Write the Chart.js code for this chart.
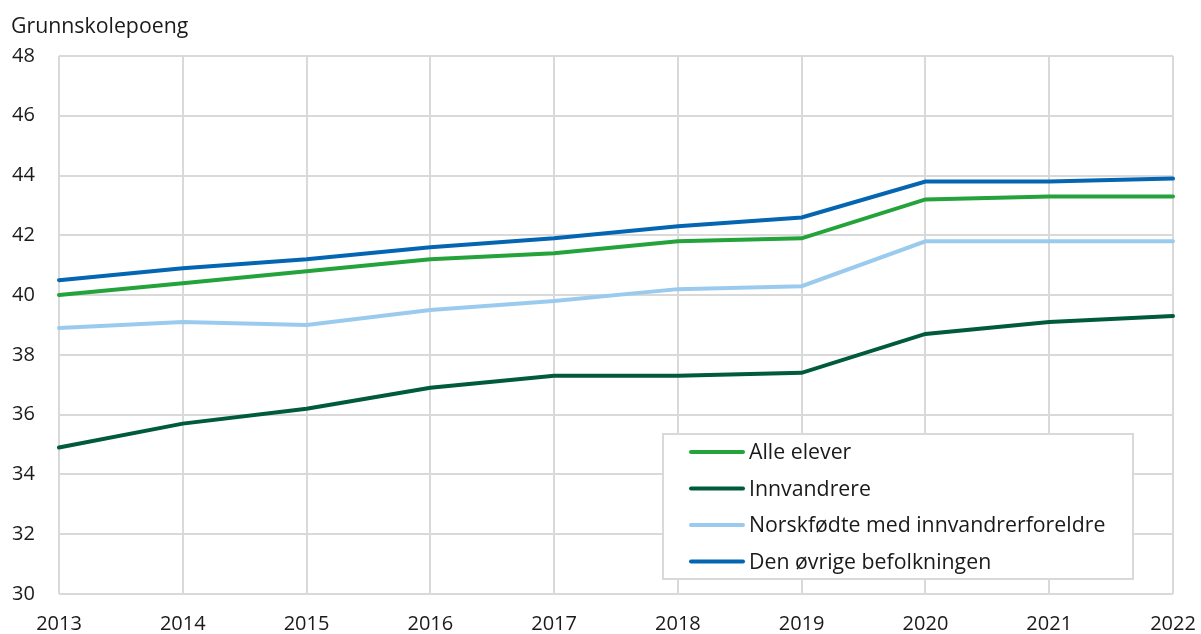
<!DOCTYPE html>
<html>
<head>
<meta charset="utf-8">
<script src="https://cdn.jsdelivr.net/npm/chart.js@4"></script>
<style>
  body { margin: 0; background: #fff; }
  #wrap { width: 1201px; height: 634px; position: relative; }
</style>
</head>
<body>
<div id="wrap"><canvas id="chart"></canvas></div>
<script>
const years = ["2013","2014","2015","2016","2017","2018","2019","2020","2021","2022"];
const alleElever = [40.0, 40.4, 40.8, 41.2, 41.4, 41.8, 41.9, 43.2, 43.3, 43.3];
const innvandrere = [34.9, 35.7, 36.2, 36.9, 37.3, 37.3, 37.4, 38.7, 39.1, 39.3];
const norskfodte = [38.9, 39.1, 39.0, 39.5, 39.8, 40.2, 40.3, 41.8, 41.8, 41.8];
const ovrige = [40.5, 40.9, 41.2, 41.6, 41.9, 42.3, 42.6, 43.8, 43.8, 43.9];
const yTitle = "Grunnskolepoeng";

const font = "'Open Sans', 'Noto Sans', sans-serif";

// legend drawn inside the plot area, bottom right
const boxLegend = {
  id: "boxLegend",
  afterDraw(chart) {
    const ctx = chart.ctx;
    const x = 663, y = 434, w = 470, h = 145;
    ctx.save();
    ctx.fillStyle = "#fff";
    ctx.fillRect(x, y, w, h);
    ctx.strokeStyle = "#d9d9d9";
    ctx.lineWidth = 2;
    ctx.strokeRect(x, y, w, h);
    ctx.font = "21.3px " + font;
    ctx.textBaseline = "middle";
    chart.data.datasets.forEach((ds, i) => {
      const ly = y + 18 + i * 36.5;
      ctx.strokeStyle = ds.borderColor;
      ctx.lineWidth = 4;
      ctx.lineCap = "round";
      ctx.beginPath();
      ctx.moveTo(x + 28, ly);
      ctx.lineTo(x + 80, ly);
      ctx.stroke();
      ctx.fillStyle = "#1a1a1a";
      ctx.fillText(ds.label, x + 86, ly + 1);
    });
    // axis title top-left
    ctx.textBaseline = "alphabetic";
    ctx.fillText(yTitle, 11, 33);
    ctx.restore();
  }
};

new Chart(document.getElementById("chart"), {
  type: "line",
  data: {
    labels: years,
    datasets: [
      { label: "Alle elever", data: alleElever, borderColor: "#24a33b" },
      { label: "Innvandrere", data: innvandrere, borderColor: "#005a3c" },
      { label: "Norskfødte med innvandrerforeldre", data: norskfodte, borderColor: "#9acbee" },
      { label: "Den øvrige befolkningen", data: ovrige, borderColor: "#0466b2" }
    ]
  },
  options: {
    responsive: true,
    maintainAspectRatio: false,
    animation: false,
    layout: { padding: { top: 56, right: 28, left: 12, bottom: 0 } },
    elements: {
      line: { borderWidth: 4, tension: 0, borderCapStyle: "round" },
      point: { radius: 0 }
    },
    plugins: {
      legend: { display: false },
      tooltip: { enabled: false }
    },
    scales: {
      x: {
        offset: false,
        grid: { color: "#d9d9d9", lineWidth: 2, drawTicks: false },
        border: { display: false },
        ticks: { color: "#1a1a1a", font: { family: font, size: 20 }, padding: 18, maxRotation: 0 },
        afterFit(s) { s.height = 40; s.paddingRight = 0; s.paddingLeft = 0; }
      },
      y: {
        min: 30, max: 48,
        grid: { color: "#d9d9d9", lineWidth: 2, drawTicks: false },
        border: { display: false },
        ticks: { stepSize: 2, color: "#1a1a1a", font: { family: font, size: 20 }, padding: 12, crossAlign: "far" },
        afterFit(s) { s.width = 47; }
      }
    }
  },
  plugins: [boxLegend]
});
</script>
</body>
</html>
